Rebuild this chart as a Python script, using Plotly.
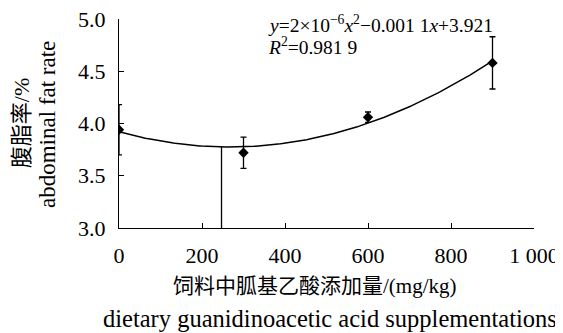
import numpy as np
import plotly.graph_objects as go

# Data
doses = [0, 300, 600, 900]                 # mg/kg
fat_rate = [3.94, 3.72, 4.06, 4.58]        # abdominal fat rate, %
fat_err = [0.24, 0.15, 0.05, 0.25]
optimum_dose = 247
x_ticks = [0, 200, 400, 600, 800, 1000]
x_tick_labels = ["0", "200", "400", "600", "800", "1 000"]
y_ticks = [3.0, 3.5, 4.0, 4.5, 5.0]
y_tick_labels = ["3.0", "3.5", "4.0", "4.5", "5.0"]

# Quadratic trendline fitted to the means
coef = np.polyfit(doses, fat_rate, 2)
xs = np.linspace(0, 900, 200)
ys = np.polyval(coef, xs)
y_opt = float(np.polyval(coef, optimum_dose))

SERIF = "Liberation Serif, Times New Roman, Noto Sans CJK SC, serif"

fig = go.Figure()
fig.add_trace(go.Scatter(x=xs, y=ys, mode="lines",
                         line=dict(color="black", width=1.5),
                         hoverinfo="skip", showlegend=False))
fig.add_trace(go.Scatter(x=[optimum_dose, optimum_dose], y=[3.0, y_opt], mode="lines",
                         line=dict(color="black", width=1.3),
                         hoverinfo="skip", showlegend=False))
fig.add_trace(go.Scatter(x=doses, y=fat_rate, mode="markers",
                         marker=dict(symbol="diamond", size=8, color="black"),
                         error_y=dict(type="data", array=fat_err, visible=True,
                                      color="black", thickness=1.3, width=3),
                         showlegend=False))

fig.update_layout(
    width=555, height=325,
    margin=dict(l=111, r=29, t=11, b=105),
    paper_bgcolor="white", plot_bgcolor="white",
    font=dict(family=SERIF, size=22, color="black"),
    xaxis=dict(range=[0, 1000], tickvals=x_ticks, ticktext=x_tick_labels,
               showgrid=False, zeroline=False, showline=True, linecolor="black",
               linewidth=1.3, ticks="inside", ticklen=5, tickwidth=1.3,
               tickcolor="black", tickfont=dict(size=22, family=SERIF),
               ticklabelstandoff=7, ticklabeloverflow="allow", automargin=False),
    yaxis=dict(range=[3.0, 5.0], tickvals=y_ticks, ticktext=y_tick_labels,
               showgrid=False, zeroline=False, showline=True, linecolor="black",
               linewidth=1.3, ticks="inside", ticklen=5, tickwidth=1.3,
               tickcolor="black", tickfont=dict(size=22, family=SERIF),
               ticklabelstandoff=8, ticklabeloverflow="allow", automargin=False),
)

fig.add_annotation(xref="paper", yref="paper", x=0.354, y=0.976, xanchor="left", yanchor="middle",
                   text="<i>y</i>=2×10<sup>−6</sup><i>x</i><sup>2</sup>−0.001 1<i>x</i>+3.921",
                   showarrow=False, font=dict(size=19.5, family=SERIF), align="left")
fig.add_annotation(xref="paper", yref="paper", x=0.354, y=0.872, xanchor="left", yanchor="middle",
                   text="<i>R</i><sup>2</sup>=0.981 9",
                   showarrow=False, font=dict(size=19.5, family=SERIF), align="left")

fig.add_annotation(xref="paper", yref="paper", x=0.472, y=-0.2775, xanchor="center", yanchor="middle",
                   text="饲料中胍基乙酸添加量/(mg/kg)", showarrow=False,
                   font=dict(size=21, family=SERIF))
fig.add_annotation(xref="paper", yref="paper", x=0.508, y=-0.431, xanchor="center", yanchor="middle",
                   text="dietary guanidinoacetic acid supplementations", showarrow=False,
                   font=dict(size=24.5, family=SERIF))
fig.add_annotation(xref="paper", yref="paper", x=-0.236, y=0.502, xanchor="center", yanchor="middle",
                   text="腹脂率/%", showarrow=False, textangle=-90,
                   font=dict(size=22, family=SERIF))
fig.add_annotation(xref="paper", yref="paper", x=-0.171, y=0.493, xanchor="center", yanchor="middle",
                   text="abdominal fat rate", showarrow=False, textangle=-90,
                   font=dict(size=23, family=SERIF))

fig.write_html("out.html")
